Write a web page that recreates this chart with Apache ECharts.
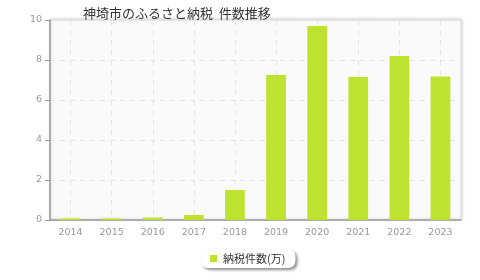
<!DOCTYPE html>
<html><head><meta charset="utf-8">
<script src="https://cdn.jsdelivr.net/npm/echarts@6/dist/echarts.min.js"></script>
<style>html,body{margin:0;padding:0;background:#fff}#c{width:480px;height:280px}</style>
</head><body><div id="c"></div>
<script>
const titleText = '神埼市のふるさと納税  件数推移';
const seriesName = '納税件数(万)';
const years = ['2014','2015','2016','2017','2018','2019','2020','2021','2022','2023'];
const counts = [0.08, 0.08, 0.12, 0.25, 1.5, 7.25, 9.7, 7.15, 8.2, 7.18];
const yTicks = [0, 2, 4, 6, 8, 10];

const chart = echarts.init(document.getElementById('c'), null, {renderer: 'canvas'});
chart.setOption({
  animation: false,
  title: {
    text: titleText, left: 78, top: 2,
    textStyle: {fontSize: 13, fontWeight: 'normal', color: '#333', fontFamily: 'Noto Sans CJK JP'}
  },
  legend: {
    bottom: 12, left: 201,
    data: [seriesName],
    itemWidth: 7, itemHeight: 7, icon: 'rect', itemGap: 6,
    backgroundColor: '#fff', borderRadius: 7,
    borderWidth: 0,
    shadowBlur: 3, shadowOffsetX: 2, shadowOffsetY: 2, shadowColor: 'rgba(0,0,0,0.45)',
    padding: [4, 10, 4, 9],
    textStyle: {fontSize: 11, color: '#333', fontFamily: 'Noto Sans CJK JP', padding: [0, 0, 0, 1]}
  },
  grid: {
    left: 50, right: 19, top: 20, bottom: 60,
    show: true, backgroundColor: '#fafafa', borderColor: '#ddd', borderWidth: 1,
    shadowBlur: 3, shadowColor: 'rgba(0,0,0,0.15)', shadowOffsetX: 1, shadowOffsetY: -1
  },
  xAxis: {
    type: 'category', data: years,
    axisLine: {lineStyle: {color: '#999', width: 1.5}},
    axisTick: {alignWithLabel: true, length: 5, lineStyle: {color: '#999'}},
    axisLabel: {color: '#999', fontSize: 9.5, margin: 8, fontFamily: 'DejaVu Sans'},
    splitLine: {show: true, alignWithLabel: true, lineStyle: {color: '#e4e4e4', type: [5, 5]}}
  },
  yAxis: {
    type: 'value', min: 0, max: 10, interval: 2,
    axisLine: {show: true, lineStyle: {color: '#999', width: 1.5}},
    axisTick: {show: true, length: 5, lineStyle: {color: '#999'}},
    axisLabel: {color: '#999', fontSize: 9.5, margin: 8, fontFamily: 'DejaVu Sans'},
    splitLine: {show: true, lineStyle: {color: '#e4e4e4', type: [5, 5]}}
  },
  series: [{
    name: seriesName, type: 'bar', data: counts,
    barWidth: '48%',
    itemStyle: {color: '#bde22f'}
  }]
});
</script></body></html>
